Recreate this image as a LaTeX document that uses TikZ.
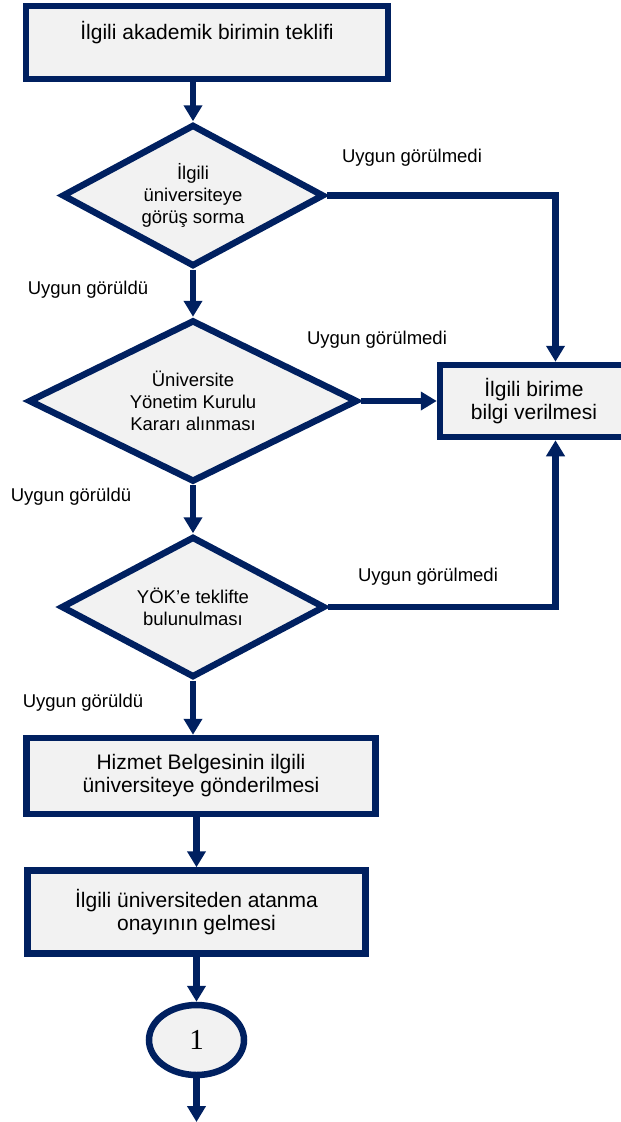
\documentclass[tikz,border=0pt]{standalone}
\usepackage{fontspec}
\setmainfont{Liberation Sans}
\newfontfamily\numfont{Liberation Serif}
\usepackage{xcolor}
\usepackage{tikz}
\usetikzlibrary{shapes.geometric, arrows.meta, positioning}
\definecolor{koyumavi}{RGB}{0,32,96}
\definecolor{acikgri}{RGB}{242,242,242}
\tikzstyle{process} = [rectangle, draw=koyumavi, line width=6.5pt, fill=acikgri, align=center, font=\fontsize{21}{23}\selectfont]
\tikzstyle{decision} = [diamond, aspect=2, inner sep=0pt, draw=koyumavi, line width=6.5pt, fill=acikgri, align=center, font=\fontsize{18.5}{22}\selectfont]
\tikzstyle{connector} = [ellipse, draw=koyumavi, line width=6.5pt, fill=acikgri, font=\numfont\fontsize{29}{30}\selectfont]
\tikzstyle{lbl} = [inner sep=0pt, font=\fontsize{18.5}{20}\selectfont]
\tikzstyle{arrow} = [draw=koyumavi, line width=6.5pt, -{Triangle[width=18pt,length=16pt]}]

\begin{document}
\begin{tikzpicture}[x=1pt, y=-1pt]
    \useasboundingbox (0,0) rectangle (621,1122);
    \clip (0,0) rectangle (621,1122);

    % Başlangıç
    \node (teklif) [process, minimum width=362pt, minimum height=73pt, text depth=24pt] at (207,42.5) {İlgili akademik birimin teklifi};

    % Kararlar
    \node (gorus) [decision, minimum width=262pt, minimum height=142pt, below=39pt of teklif, xshift=-14pt] {İlgili\\üniversiteye\\görüş sorma};
    \node (ykk) [decision, minimum width=329pt, minimum height=162pt, below=47pt of gorus] {Üniversite\\Yönetim Kurulu\\Kararı alınması};
    \node (yok) [decision, minimum width=264pt, minimum height=141pt, below=48pt of ykk] {YÖK’e teklifte\\bulunulması};

    % Bilgi verme
    \node (bilgi) [process, minimum width=188pt, minimum height=72pt, right=76pt of ykk] {İlgili birime\\bilgi verilmesi};

    % Atama
    \node (hizmet) [process, minimum width=349pt, minimum height=76pt, below=54pt of yok, xshift=8pt] {Hizmet Belgesinin ilgili\\üniversiteye gönderilmesi};
    \node (onay) [process, minimum width=338pt, minimum height=83pt, below=50pt of hizmet, xshift=-4.5pt] {İlgili üniversiteden atanma\\onayının gelmesi};
    \node (bag) [connector, minimum width=95pt, minimum height=70pt, below=45pt of onay] {1};
    \coordinate (son) at (195,1122);

    % Etiketler
    \node (red1) [lbl] at (412,158) {Uygun görülmedi};
    \node (kabul1) [lbl] at (88,290) {Uygun görüldü};
    \node (red2) [lbl] at (377,340) {Uygun görülmedi};
    \node (kabul2) [lbl] at (71,497) {Uygun görüldü};
    \node (red3) [lbl] at (428,577) {Uygun görülmedi};
    \node (kabul3) [lbl] at (83,703) {Uygun görüldü};

    % Oklar
    \draw [arrow] (teklif.south -| gorus.north) -- (gorus.north);
    \draw [arrow] (gorus.south) -- (ykk.north);
    \draw [arrow] (ykk.south) -- (yok.north);
    \draw [arrow] (yok.south) -- (yok.south |- hizmet.north);
    \draw [arrow] (onay.north |- hizmet.south) -- (onay.north);
    \draw [arrow] (onay.south) -- (bag.north);
    \draw [arrow] (bag.south) -- (bag.south |- son);
    \draw [arrow] (gorus.east) -| ([xshift=21.5pt]bilgi.north);
    \draw [arrow] (ykk.east) -- (bilgi.west);
    \draw [arrow] (yok.east) -| ([xshift=21.5pt]bilgi.south);
\end{tikzpicture}
\end{document}
